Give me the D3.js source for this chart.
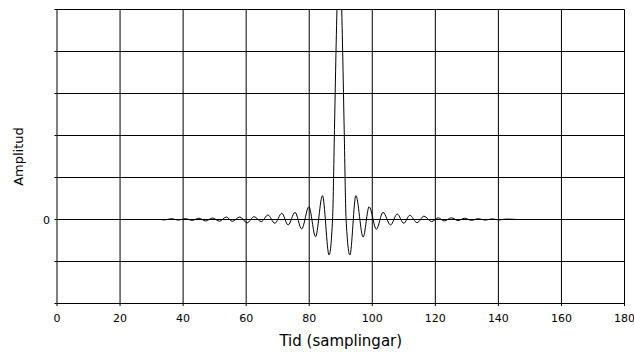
<!DOCTYPE html>
<html>
<head>
<meta charset="utf-8">
<script src="https://cdn.jsdelivr.net/npm/d3@7"></script>
<style>
  body { margin: 0; background: #fff; }
  svg { display: block; font-family: "DejaVu Sans", Verdana, sans-serif; }
</style>
</head>
<body>
<svg id="chart" width="634" height="352"></svg>
<script>
// tid (samplingar) och amplitud, avlästa vid topparna / nollgenomgångarna
const tid = [
  33.0, 34.1, 36.3, 38.5, 40.7, 42.9, 45.0, 47.2, 49.3, 51.6, 53.7, 55.6,
  58.0, 60.3, 62.5, 64.8, 66.9, 69.1, 71.3, 73.3, 75.5, 77.6, 79.9, 82.0,
  84.2, 86.3, 87.4, 88.05, 88.55, 89.05, 89.55, 90.05, 90.55, 91.05, 91.7,
  92.9, 94.8, 97.1, 99.0, 101.3, 103.4, 105.8, 107.9, 110.0, 111.9, 114.2,
  116.4, 118.8, 120.9, 122.8, 125.1, 127.2, 129.3, 131.5, 133.6, 135.8,
  138.0, 140.2, 142.4, 146.0
];
const amplitud = [
  0, -0.01, 0.02, -0.015, 0.02, -0.02, 0.03, -0.035, 0.035, -0.04, 0.06, -0.045,
  0.06, -0.08, 0.067, -0.05, 0.107, -0.09, 0.148, -0.13, 0.17, -0.226, 0.305, -0.41,
  0.567, -0.845, 0, 2.3, 4.2, 5.65, 6.2, 5.65, 4.2, 2.3, 0,
  -0.845, 0.567, -0.42, 0.305, -0.233, 0.17, -0.13, 0.13, -0.09, 0.1, -0.076,
  0.08, -0.05, 0.04, -0.035, 0.04, -0.025, 0.03, -0.02, 0.02, -0.015,
  0.015, -0.01, 0.01, 0
];
const xTicks = [0, 20, 40, 60, 80, 100, 120, 140, 160, 180];
const yTicks = [-2, -1, 0, 1, 2, 3, 4, 5];

const svg = d3.select("#chart");
const x = d3.scaleLinear().domain([0, 180]).range([57, 624.5]);
const y = d3.scaleLinear().domain([-2, 5]).range([303.5, 9.5]);

svg.append("defs").append("clipPath").attr("id", "plot")
  .append("rect").attr("x", x(0)).attr("y", y(5))
  .attr("width", x(180) - x(0)).attr("height", y(-2) - y(5));

// rutnät
svg.append("g").selectAll("line").data(xTicks).join("line")
  .attr("x1", d => x(d)).attr("x2", d => x(d))
  .attr("y1", y(5)).attr("y2", y(-2) + 2.5)
  .attr("stroke", "#000").attr("stroke-width", 1);

svg.append("g").selectAll("line").data(yTicks).join("line")
  .attr("x1", x(0) - 2.5).attr("x2", x(180))
  .attr("y1", d => y(d)).attr("y2", d => y(d))
  .attr("stroke", "#000").attr("stroke-width", 1);

// tick-etiketter
svg.append("g").selectAll("text").data(xTicks).join("text")
  .attr("x", d => x(d)).attr("y", 322)
  .attr("text-anchor", "middle").attr("font-size", 11)
  .text(d => d);

svg.append("text").attr("x", 50).attr("y", y(0) + 4)
  .attr("text-anchor", "end").attr("font-size", 11).text("0");

// signalen
const pts = tid.map((t, i) => [t, amplitud[i]]);
const line = d3.line().x(d => x(d[0])).y(d => y(d[1])).curve(d3.curveMonotoneX);
svg.append("path").datum(pts)
  .attr("clip-path", "url(#plot)")
  .attr("d", line)
  .attr("fill", "none").attr("stroke", "#000").attr("stroke-width", 1);

// axeltitlar
svg.append("text").attr("x", (x(0) + x(180)) / 2).attr("y", 346)
  .attr("text-anchor", "middle").attr("font-size", 15).text("Tid (samplingar)");

svg.append("text")
  .attr("transform", `translate(23, ${(y(5) + y(-2)) / 2}) rotate(-90)`)
  .attr("text-anchor", "middle").attr("font-size", 13).text("Amplitud");
</script>
</body>
</html>
